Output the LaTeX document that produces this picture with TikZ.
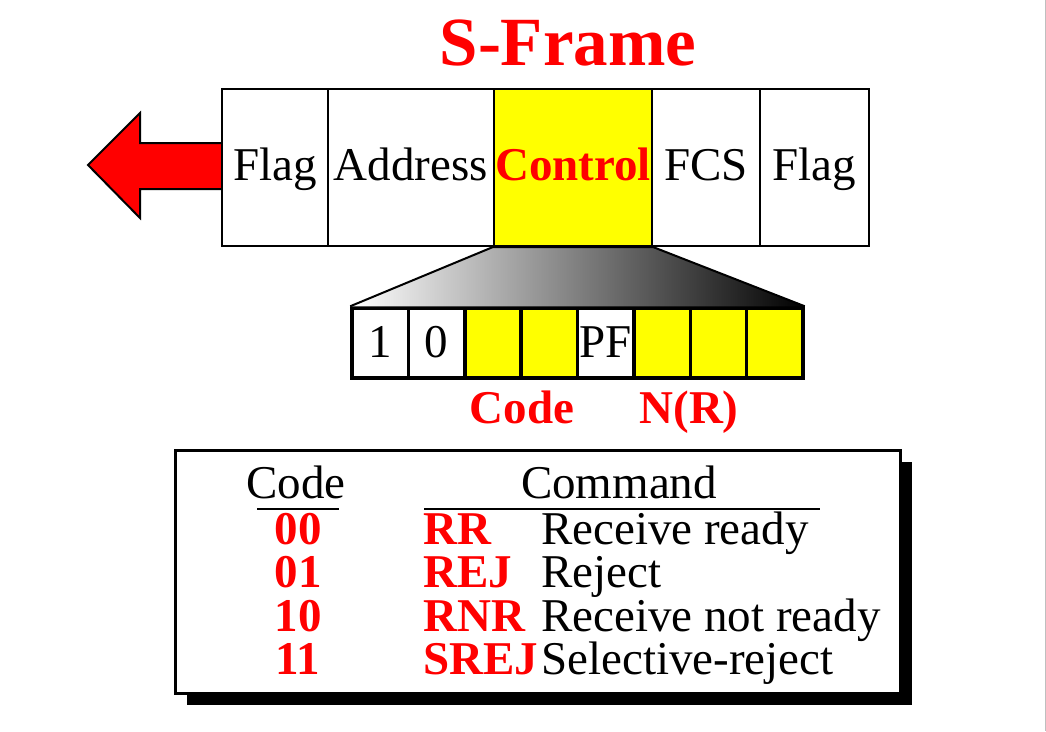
\documentclass[tikz,border=0pt]{standalone}
\usepackage{fontspec}
\setmainfont{Liberation Serif}
\definecolor{frred}{RGB}{255,0,0}
\definecolor{fryellow}{RGB}{255,255,0}
\newcommand{\bigfont}{\fontsize{47}{50}\selectfont}
\tikzset{
    field/.style={draw, line width=2pt, minimum height=157pt, inner sep=0pt, text height=34pt, text depth=9pt, font=\bigfont},
    bit/.style={draw, line width=3.5pt, minimum width=56.375pt, minimum height=70pt, inner sep=0pt, text height=32pt, text depth=4pt, font=\bigfont},
    txt/.style={inner sep=0pt, font=\bigfont},
    redtxt/.style={inner sep=0pt, text=frred, font=\bigfont\bfseries},
}
\begin{document}
\begin{tikzpicture}[x=1pt,y=-1pt]
    \useasboundingbox (0,0) rectangle (1046,731);
    \draw[black!25] (1045,0) -- (1045,731);

    % title
    \node[redtxt, font=\fontsize{69}{72}\selectfont\bfseries, anchor=base] (title) at (568,65) {S-Frame};

    % direction arrow
    \filldraw[fill=frred, line width=2pt, line join=miter] (222,143) -- (140,143) -- (140,113) -- (88,165) -- (140,218) -- (140,189) -- (222,189);

    % frame fields
    \foreach \nm/\x/\w/\lbl in {flagA/275/106/Flag, addr/411/166/Address, fcs/706/108/FCS, flagB/814.5/109/Flag}
        \node[field, fill=white, minimum width=\w pt] (\nm) at (\x,167.5) {\lbl};
    \node[field, fill=fryellow, minimum width=158pt, text=frred, font=\bigfont\bfseries] (ctrl) at (573,167.5) {Control};

    % control bits
    \pgfmathsetmacro{\bitw}{56.375}
    \foreach \i/\lbl/\col in {1/1/white, 2/0/white, 3//fryellow, 4//fryellow, 5/PF/white, 6//fryellow, 7//fryellow, 8//fryellow}
        \node[bit, fill=\col] (b\i) at ({352+\bitw*(\i-0.5)},343) {\lbl};

    % shaded zoom
    \shade[left color=white, right color=black] (ctrl.south west) -- (ctrl.south east) -- (b8.north east) -- (b1.north west) -- cycle;
    \draw[line width=2pt, line join=round] (b1.north west) -- (ctrl.south west) -- (ctrl.south east) -- (b8.north east);

    % bit group labels
    \node[redtxt, anchor=base] (codelbl) at (522,423) {Code};
    \node[redtxt, anchor=base] (nrlbl) at (689,423) {N(R)};

    % command table
    \fill (187,462) rectangle (912,705);
    \filldraw[fill=white, line width=3pt] (175,450) rectangle (900,693);
    \node[txt, anchor=base] (codehd) at (296,498) {Code};
    \node[txt, anchor=base] (cmdhd) at (619,498) {Command};
    \draw[line width=2pt] (257,509) -- (339,509);
    \draw[line width=2pt] (424,509) -- (820,509);
    \foreach \y/\code/\cmd/\desc in {544/00/RR/Receive ready, 587/01/REJ/Reject, 631/10/RNR/Receive not ready, 674/11/SREJ/Selective-reject} {
        \node[redtxt, anchor=base] (c\code) at (298,\y) {\code};
        \node[redtxt, anchor=base west] (n\code) at (423,\y) {\cmd};
        \node[txt, anchor=base west] (d\code) at (541,\y) {\desc};
    }
\end{tikzpicture}
\end{document}
